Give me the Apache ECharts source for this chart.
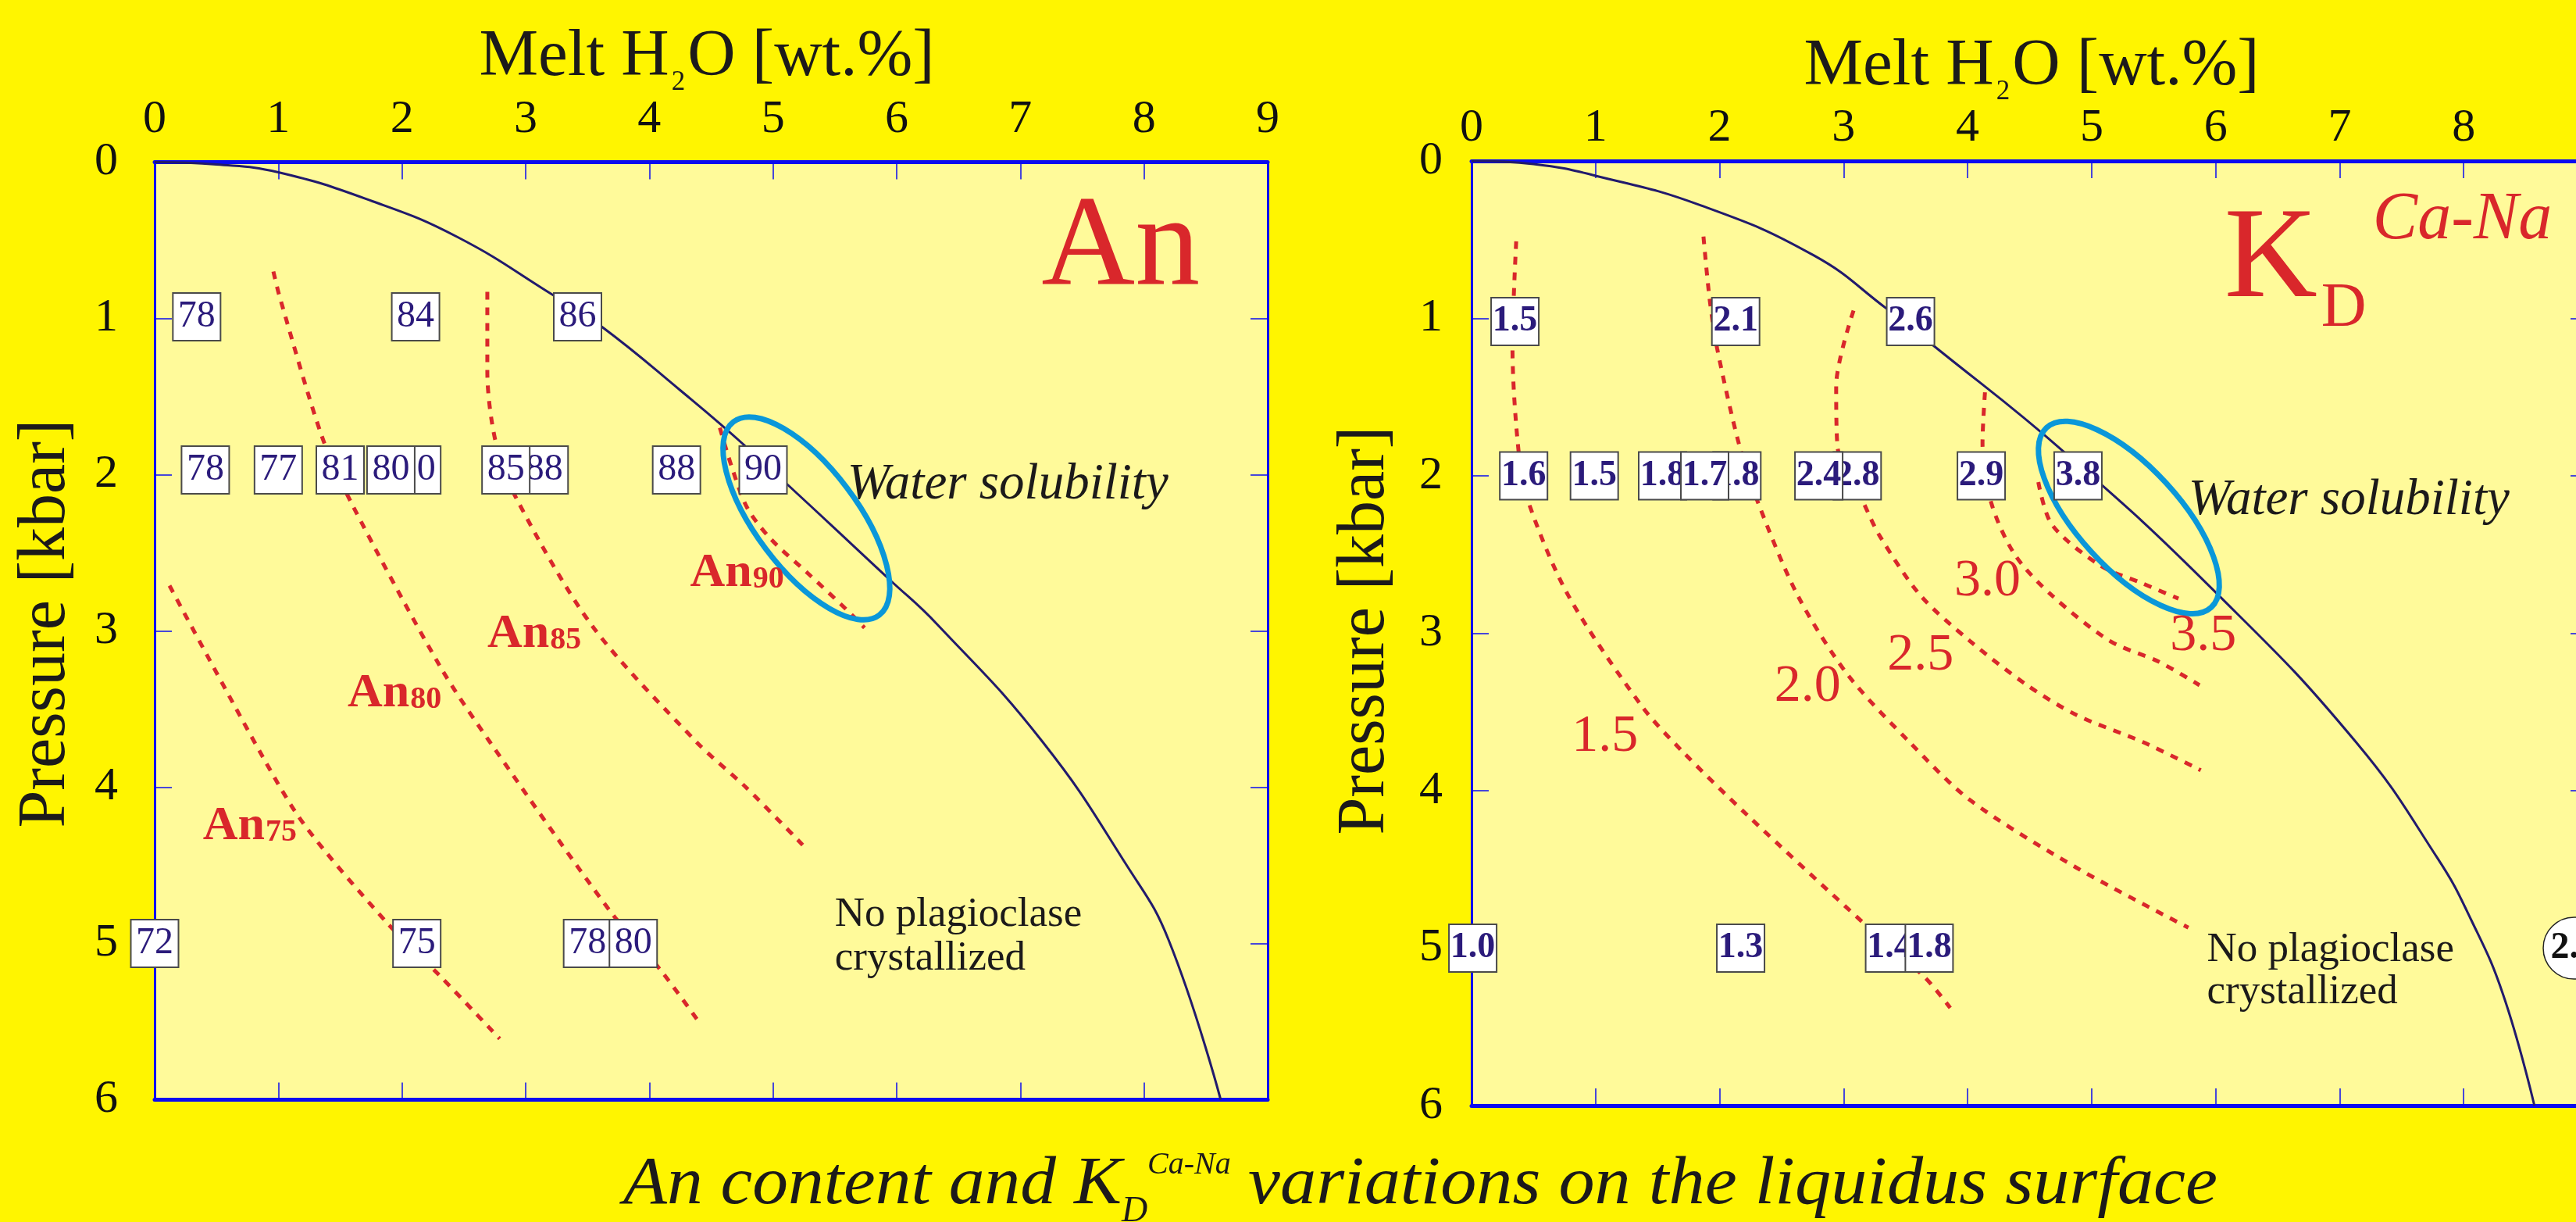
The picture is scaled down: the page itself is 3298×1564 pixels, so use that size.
<!DOCTYPE html>
<html><head><meta charset="utf-8">
<script src="https://cdn.jsdelivr.net/npm/echarts@6/dist/echarts.min.js"></script>
<style>html,body{margin:0;padding:0;background:#fff500;overflow:hidden}#chart{width:3298px;height:1564px}</style>
</head><body><div id="chart"></div>
<script>
// ================= DATA =================
const h2oTicks = [0, 1, 2, 3, 4, 5, 6, 7, 8, 9];      // Melt H2O [wt.%]
const pressureTicks = [0, 1, 2, 3, 4, 5, 6];          // Pressure [kbar]

// ---- Left panel: An content ----
const anSolubility = [[0,0],[0.5,0.015],[1.0,0.065],[1.76,0.25],[2.45,0.48],[3.22,0.85],[3.61,1.05],[4.25,1.46],[4.78,1.82],[5.94,2.67],[6.33,2.96],[7.18,3.71],[7.86,4.50],[8.20,4.98],[8.62,6.0]];
const an75 = [[0.12,2.71],[0.87,3.80],[1.21,4.24],[1.87,4.86],[2.31,5.21],[2.79,5.61]];
const an80 = [[0.96,0.70],[1.01,0.86],[1.35,1.75],[1.59,2.18],[2.31,3.23],[2.71,3.71],[3.68,4.79],[4.09,5.17],[4.39,5.49]];
const an85 = [[2.69,0.83],[2.69,1.34],[2.76,1.80],[2.93,2.16],[3.54,2.97],[4.38,3.71],[4.78,4.00],[5.24,4.37]];
const an90 = [[4.57,1.70],[4.67,1.96],[4.79,2.21],[4.98,2.41],[5.28,2.63],[5.59,2.86],[5.74,2.98]];
const anContourNames = ['75', '80', '85', '90'];
const anContourNamePos = [[0.39,4.36],[1.56,3.51],[2.69,3.13],[4.33,2.74]];
const anSamples = [   // [H2O, P, An] (drawing order: later on top)
  [0.34,0.99,'78'],[2.11,0.99,'84'],[3.42,0.99,'86'],
  [0.41,1.97,'78'],[1.00,1.97,'77'],[1.50,1.97,'81'],[2.12,1.97,'80'],[1.91,1.97,'80'],
  [3.15,1.97,'88'],[2.84,1.97,'85'],[4.22,1.97,'88'],[4.92,1.97,'90'],
  [0.00,5.00,'72'],[2.12,5.00,'75'],[3.50,5.00,'78'],[3.87,5.00,'80']
];
const anFocus = [[5.27, 2.28]];
const anTitlePos = [[7.17, 0.846]];
const anWaterPos = [[5.60, 2.18]];
const anNoPlagPos = [[5.50, 4.91]];

// ---- Right panel: KD Ca-Na ----
const kdSolubility = [[0,0],[0.5,0.02],[1.0,0.094],[1.84,0.28],[2.76,0.60],[3.35,0.94],[3.72,1.17],[4.78,1.85],[6.0,2.74],[7.13,3.69],[7.79,4.43],[8.06,4.82],[8.32,5.30],[8.57,6.0]];
const kd15 = [[0.36,0.51],[0.33,1.18],[0.38,1.85],[0.46,2.17],[0.78,2.76],[1.37,3.46],[1.70,3.75],[2.23,4.16],[3.16,4.84],[3.66,5.19],[3.86,5.38]];
const kd20 = [[1.87,0.48],[1.92,0.88],[1.98,1.19],[2.16,1.81],[2.31,2.17],[2.63,2.76],[3.03,3.26],[3.53,3.69],[4.02,4.06],[4.88,4.49],[5.78,4.87]];
const kd25 = [[3.08,0.95],[2.94,1.43],[2.95,1.81],[3.16,2.17],[3.29,2.38],[3.62,2.76],[4.02,3.05],[4.48,3.33],[4.88,3.52],[5.41,3.69],[5.88,3.87]];
const kd30 = [[4.14,1.47],[4.12,1.79],[4.19,2.17],[4.38,2.50],[4.68,2.76],[5.15,3.05],[5.54,3.18],[5.87,3.33]];
const kd35 = [[4.57,2.04],[4.68,2.31],[5.07,2.57],[5.40,2.68],[5.70,2.78]];
const kdContourNames = ['1.5', '2.0', '2.5', '3.0', '3.5'];
const kdContourNamePos = [[1.075,3.66],[2.71,3.34],[3.62,3.14],[4.16,2.67],[5.90,3.02]];
const kdSamples = [   // [H2O, P, KD]
  [0.35,1.02,'1.5'],[2.13,1.02,'2.1'],[3.54,1.02,'2.6'],
  [0.42,2.00,'1.6'],[0.99,2.00,'1.5'],[1.54,2.00,'1.8'],[2.14,2.00,'1.8'],[1.88,2.00,'1.7'],
  [3.11,2.00,'2.8'],[2.80,2.00,'2.4'],[4.11,2.00,'2.9'],[4.89,2.00,'3.8'],
  [0.01,5.00,'1.0'],[2.17,5.00,'1.3'],[3.37,5.00,'1.4'],[3.69,5.00,'1.8']
];
const kdCircle = [[8.89, 5.00, '2.4']];
const kdFocus = [[5.30, 2.265]];
const kdTitlePos = [[6.07, 0.923]];
const kdWaterPos = [[5.78, 2.27]];
const kdNoPlagPos = [[5.93, 5.10]];

// ================= STYLE =================
const FONT = '"Liberation Serif", "Times New Roman", serif';
const BG = '#fff500', PLOT = '#fffa9a', BLUE = '#0b0bef', RED = '#d9272b';
const NAVY = '#221a6c', BOXTXT = '#2b1b7b', ELL = '#0a97d9', TXT = '#1c1a1a';
const MID = 0.34;

const mctx = document.createElement('canvas').getContext('2d');
function measure(p) {
  mctx.font = (p.italic ? 'italic ' : '') + (p.bold ? 'bold ' : '') + p.size + 'px ' + FONT;
  return mctx.measureText(p.text).width;
}
// pieces laid out from an anchor (left, baseline)
function layoutPieces(pieces, ax, ay, align) {
  let cur = 0; const out = [];
  pieces.forEach(p => {
    const nat = measure(p);
    const sx = p.width ? p.width / nat : (p.scaleX || 1);
    const left = p.x !== undefined ? p.x : cur + (p.dx || 0);
    out.push({ p, left, sx }); cur = left + nat * sx;
  });
  const shift = align === 'center' ? -cur / 2 : 0;
  return out.map(o => ({
    type: 'text', x: ax + o.left + shift, y: ay + (o.p.dy || 0) - MID * o.p.size,
    scaleX: o.sx, z2: 20, silent: true,
    style: { text: o.p.text, fontFamily: FONT, fontSize: o.p.size,
      fontWeight: o.p.bold ? 'bold' : 'normal', fontStyle: o.p.italic ? 'italic' : 'normal',
      fill: o.p.fill || TXT, align: 'left', verticalAlign: 'middle' }
  }));
}

function xAxes(gi, margin) {
  const mk = (pos, showLabel) => ({
    gridIndex: gi, type: 'value', position: pos,
    min: h2oTicks[0], max: h2oTicks[h2oTicks.length - 1], interval: 1,
    splitLine: { show: false },
    axisLine: { show: true, onZero: false, lineStyle: { color: BLUE, width: 5 } },
    axisTick: { show: true, inside: true, length: 22, lineStyle: { color: BLUE, width: 1.5 } },
    axisLabel: { show: showLabel, margin: margin, fontFamily: FONT, fontSize: 60, color: '#111' }
  });
  return [mk('top', true), mk('bottom', false)];
}
function yAxes(gi, margin) {
  const mk = (pos, showLabel) => ({
    gridIndex: gi, type: 'value', position: pos, inverse: true,
    min: pressureTicks[0], max: pressureTicks[pressureTicks.length - 1], interval: 1,
    splitLine: { show: false },
    axisLine: { show: true, onZero: false, lineStyle: { color: BLUE, width: 3 } },
    axisTick: { show: true, inside: true, length: 22, lineStyle: { color: BLUE, width: 1.5 } },
    axisLabel: { show: showLabel, margin: margin, fontFamily: FONT, fontSize: 60, color: '#111' }
  });
  return [mk('left', true), mk('right', false)];
}

function curve(xi, yi, data, dashed) {
  return { type: 'line', xAxisIndex: xi, yAxisIndex: yi, data: data, smooth: dashed ? 0.3 : 0.45,
    symbol: 'none', silent: true, z: dashed ? 3 : 2, animation: false,
    lineStyle: dashed ? { color: RED, width: 5, type: [10, 10], cap: 'butt' } : { color: NAVY, width: 3 } };
}
function ellipseSeries(xi, yi, data, rx, ry, angle) {
  return { type: 'custom', xAxisIndex: xi, yAxisIndex: yi, z: 4, silent: true, data: data,
    renderItem: (params, api) => {
      const c = api.coord([api.value(0), api.value(1)]);
      return { type: 'ellipse', x: c[0], y: c[1], rotation: -angle * Math.PI / 180,
        shape: { cx: 0, cy: 0, rx: rx, ry: ry },
        style: { fill: 'none', stroke: ELL, lineWidth: 7 } };
    } };
}
function boxSeries(xi, yi, samples, bold) {
  return { type: 'custom', xAxisIndex: xi, yAxisIndex: yi, z: 5, silent: true,
    data: samples.map(s => [s[0], s[1]]),
    renderItem: (params, api) => {
      const c = api.coord([api.value(0), api.value(1)]);
      const i = params.dataIndex;
      return { type: 'group', children: [
        { type: 'rect', z2: 2 * i, shape: { x: c[0] - 30.5, y: c[1] - 30.5, width: 61, height: 61 },
          style: { fill: '#ffffff', stroke: '#4a4a4a', lineWidth: 2 } },
        { type: 'text', z2: 2 * i + 1, x: c[0], y: c[1],
          style: { text: samples[i][2], fontFamily: FONT, fontSize: bold ? 46 : 48,
            fontWeight: bold ? 'bold' : 'normal', fill: BOXTXT, align: 'center', verticalAlign: 'middle' } }
      ] };
    } };
}
function circleSeries(xi, yi, samples) {
  return { type: 'custom', xAxisIndex: xi, yAxisIndex: yi, z: 5, silent: true, clip: false,
    data: samples.map(s => [s[0], s[1]]),
    renderItem: (params, api) => {
      const c = api.coord([api.value(0), api.value(1)]);
      return { type: 'group', children: [
        { type: 'ellipse', shape: { cx: c[0], cy: c[1], rx: 39.5, ry: 39.5 },
          style: { fill: '#ffffff', stroke: '#222', lineWidth: 1.5 } },
        { type: 'text', x: c[0], y: c[1], z2: 2,
          style: { text: samples[params.dataIndex][2], fontFamily: FONT, fontSize: 48,
            fontWeight: 'bold', fill: '#111', align: 'center', verticalAlign: 'middle' } }
      ] };
    } };
}
function textSeries(xi, yi, anchors, piecesFor, align) {
  return { type: 'custom', xAxisIndex: xi, yAxisIndex: yi, z: 6, silent: true,
    data: anchors.map(a => [a[0], a[1]]),
    renderItem: (params, api) => {
      const c = api.coord([api.value(0), api.value(1)]);
      return { type: 'group', children: layoutPieces(piecesFor(params.dataIndex), c[0], c[1], align) };
    } };
}

const series = [
  // left panel
  curve(0, 0, anSolubility, false),
  curve(0, 0, an75, true), curve(0, 0, an80, true), curve(0, 0, an85, true), curve(0, 0, an90, true),
  ellipseSeries(0, 0, anFocus, 155, 65, 53),
  boxSeries(0, 0, anSamples, false),
  textSeries(0, 0, anContourNamePos, i => [
    { text: 'An', size: 62, bold: true, fill: RED },
    { text: anContourNames[i], size: 40, bold: true, fill: RED, dx: 1 }]),
  textSeries(0, 0, anTitlePos, () => [{ text: 'An', size: 166, fill: RED }]),
  textSeries(0, 0, anWaterPos, () => [{ text: 'Water solubility', size: 65, italic: true }]),
  textSeries(0, 0, anNoPlagPos, () => [
    { text: 'No plagioclase', size: 53, x: 0 }, { text: 'crystallized', size: 53, x: 0, dy: 56 }]),
  // right panel
  curve(2, 2, kdSolubility, false),
  curve(2, 2, kd15, true), curve(2, 2, kd20, true), curve(2, 2, kd25, true), curve(2, 2, kd30, true), curve(2, 2, kd35, true),
  ellipseSeries(2, 2, kdFocus, 156, 65, 47.5),
  boxSeries(2, 2, kdSamples, true),
  circleSeries(2, 2, kdCircle),
  textSeries(2, 2, kdContourNamePos, i => [
    { text: kdContourNames[i], size: 68, fill: RED, dy: MID * 68 }], 'center'),
  textSeries(2, 2, kdTitlePos, () => [
    { text: 'K', size: 165, fill: RED, x: 0 },
    { text: 'D', size: 80, fill: RED, x: 124, dy: 31 },
    { text: 'Ca-Na', size: 86, italic: true, fill: RED, x: 190, dy: -80 }]),
  textSeries(2, 2, kdWaterPos, () => [{ text: 'Water solubility', size: 65, italic: true }]),
  textSeries(2, 2, kdNoPlagPos, () => [
    { text: 'No plagioclase', size: 53, x: 0 }, { text: 'crystallized', size: 53, x: 0, dy: 54 }])
];

const axisNamePieces = [{ text: 'Melt H', size: 85 }, { text: '2', size: 35, dx: 3, dy: 15 }, { text: 'O [wt.%]', size: 85, dx: 3 }];
const graphic = [].concat(
  layoutPieces(axisNamePieces, 905, 103, 'center'),
  layoutPieces(axisNamePieces, 2601, 115, 'center'),
  layoutPieces([
    { text: 'An content and K', size: 86, italic: true, x: 0, width: 638 },
    { text: 'D', size: 46, italic: true, x: 638, dy: 20 },
    { text: 'Ca-Na', size: 40, italic: true, x: 671, dy: -42 },
    { text: 'variations on the liquidus surface', size: 86, italic: true, x: 800, width: 1241 }], 798, 1547, 'left'),
  [
    { type: 'text', x: 59, y: 798, rotation: Math.PI / 2, silent: true,
      style: { text: 'Pressure [kbar]', fontFamily: FONT, fontSize: 86, fill: TXT, align: 'center', verticalAlign: 'middle' } },
    { type: 'text', x: 1748, y: 807, rotation: Math.PI / 2, silent: true,
      style: { text: 'Pressure [kbar]', fontFamily: FONT, fontSize: 86, fill: TXT, align: 'center', verticalAlign: 'middle' } }
  ]
);

const chart = echarts.init(document.getElementById('chart'), null, { renderer: 'canvas', width: 3298, height: 1564 });
chart.setOption({
  backgroundColor: BG,
  animation: false,
  textStyle: { fontFamily: FONT },
  grid: [
    { left: 198, top: 207.5, width: 1425, height: 1200, show: true, backgroundColor: PLOT, borderWidth: 0, containLabel: false, outerBoundsMode: 'none' },
    { left: 1884, top: 206, width: 1429, height: 1209, show: true, backgroundColor: PLOT, borderWidth: 0, containLabel: false, outerBoundsMode: 'none' }
  ],
  xAxis: [].concat(xAxes(0, 24), xAxes(1, 12)),
  yAxis: [].concat(yAxes(0, 47), yAxes(1, 37)),
  series: series,
  graphic: graphic
});
</script>
</body></html>
